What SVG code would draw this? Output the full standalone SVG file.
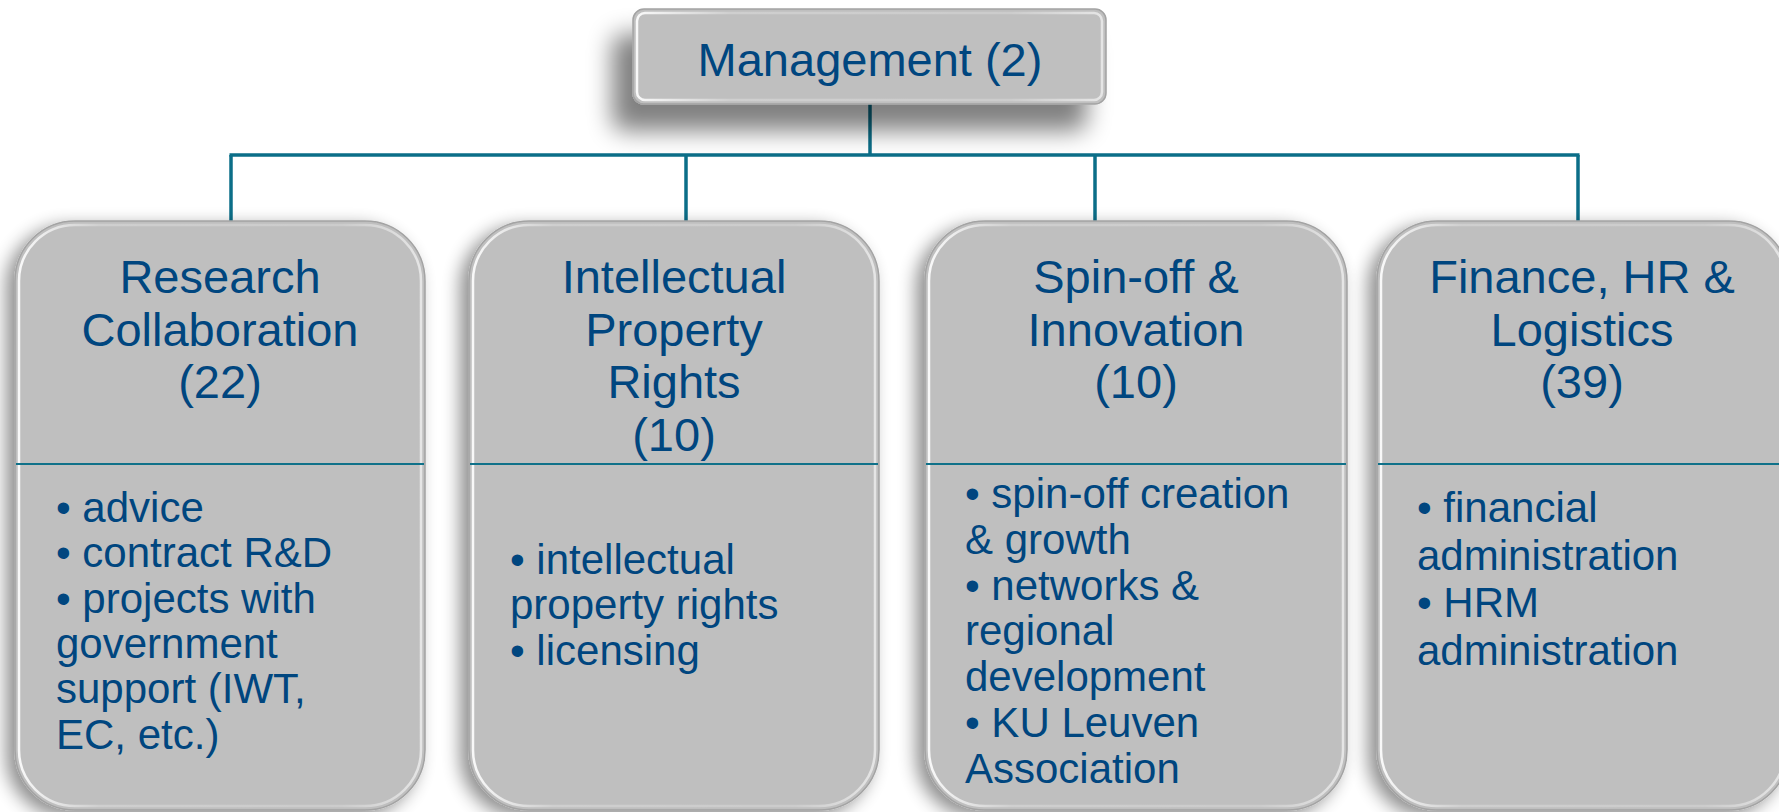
<svg xmlns="http://www.w3.org/2000/svg" width="1779" height="812" viewBox="0 0 1779 812">
<defs>
<style>
.t{font-family:"Liberation Sans",Arial,sans-serif;fill:#00467f;}
.ti{font-size:47px;text-anchor:middle;}
.bu{font-size:42px;}
.box{fill:#bfbfbf;stroke:#a3a3a3;stroke-width:1.5;}
.hl{fill:none;stroke:url(#edge);stroke-width:2.5;}
.div{stroke:#0f7189;stroke-width:2;}
.conn{stroke:#0b6e88;stroke-width:3.5;fill:none;}
</style>
<linearGradient id="edge" x1="0" y1="0" x2="1" y2="0">
<stop offset="0" stop-color="#ffffff" stop-opacity="0.9"/>
<stop offset="0.2" stop-color="#ffffff" stop-opacity="0.25"/>
<stop offset="0.8" stop-color="#ffffff" stop-opacity="0.2"/>
<stop offset="1" stop-color="#ffffff" stop-opacity="0.6"/>
</linearGradient>
<filter id="sh" x="-20%" y="-20%" width="140%" height="140%">
<feGaussianBlur in="SourceAlpha" stdDeviation="9"/>
<feOffset dx="-8" dy="6" result="b"/>
<feComponentTransfer><feFuncA type="linear" slope="0.45"/></feComponentTransfer>
<feMerge><feMergeNode/><feMergeNode in="SourceGraphic"/></feMerge>
</filter>
<filter id="shm" x="-30%" y="-60%" width="160%" height="220%">
<feGaussianBlur in="SourceAlpha" stdDeviation="12"/>
<feOffset dx="-20" dy="26" result="b"/>
<feComponentTransfer><feFuncA type="linear" slope="0.5"/></feComponentTransfer>
<feMerge><feMergeNode/><feMergeNode in="SourceGraphic"/></feMerge>
</filter>
</defs>
<rect width="1779" height="812" fill="#ffffff"/>

<g id="connectors">
<line class="conn" x1="870" y1="104" x2="870" y2="155"/>
<line class="conn" x1="229.5" y1="155" x2="1579.5" y2="155"/>
<line class="conn" x1="231" y1="155" x2="231" y2="222"/>
<line class="conn" x1="686" y1="155" x2="686" y2="222"/>
<line class="conn" x1="1095" y1="155" x2="1095" y2="222"/>
<line class="conn" x1="1578" y1="155" x2="1578" y2="222"/>
</g>

<g id="management">
<rect x="633" y="9" width="473" height="95" rx="11" class="box" filter="url(#shm)"/>
<rect x="637" y="13" width="465" height="87" rx="8" class="hl"/>
<text class="t ti" x="870" y="76">Management (2)</text>
</g>

<g id="research">
<rect x="15" y="221" width="410" height="589" rx="60" class="box" filter="url(#sh)"/>
<rect x="19" y="225" width="402" height="581" rx="56" class="hl"/>
<line class="div" x1="16" y1="464" x2="424" y2="464"/>
<text class="t ti" x="220" y="293">Research</text>
<text class="t ti" x="220" y="345.5">Collaboration</text>
<text class="t ti" x="220" y="398">(22)</text>
<text class="t bu" x="56" y="522">• advice</text>
<text class="t bu" x="56" y="567.3">• contract R&amp;D</text>
<text class="t bu" x="56" y="612.6">• projects with</text>
<text class="t bu" x="56" y="657.9">government</text>
<text class="t bu" x="56" y="703.2">support (IWT,</text>
<text class="t bu" x="56" y="748.5">EC, etc.)</text>
</g>

<g id="ipr">
<rect x="469" y="221" width="410" height="589" rx="60" class="box" filter="url(#sh)"/>
<rect x="473" y="225" width="402" height="581" rx="56" class="hl"/>
<line class="div" x1="470" y1="464" x2="878" y2="464"/>
<text class="t ti" x="674" y="293">Intellectual</text>
<text class="t ti" x="674" y="345.5">Property</text>
<text class="t ti" x="674" y="398">Rights</text>
<text class="t ti" x="674" y="450.5">(10)</text>
<text class="t bu" x="510" y="574">• intellectual</text>
<text class="t bu" x="510" y="619.3">property rights</text>
<text class="t bu" x="510" y="664.6">• licensing</text>
</g>

<g id="spinoff">
<rect x="925" y="221" width="422" height="589" rx="60" class="box" filter="url(#sh)"/>
<rect x="929" y="225" width="414" height="581" rx="56" class="hl"/>
<line class="div" x1="926" y1="464" x2="1346" y2="464"/>
<text class="t ti" x="1136" y="293">Spin-off &amp;</text>
<text class="t ti" x="1136" y="345.5">Innovation</text>
<text class="t ti" x="1136" y="398">(10)</text>
<text class="t bu" x="965" y="508">• spin-off creation</text>
<text class="t bu" x="965" y="553.8">&amp; growth</text>
<text class="t bu" x="965" y="599.6">• networks &amp;</text>
<text class="t bu" x="965" y="645.4">regional</text>
<text class="t bu" x="965" y="691.2">development</text>
<text class="t bu" x="965" y="737">• KU Leuven</text>
<text class="t bu" x="965" y="782.8">Association</text>
</g>

<g id="finance">
<rect x="1377" y="221" width="412" height="589" rx="60" class="box" filter="url(#sh)"/>
<rect x="1381" y="225" width="404" height="581" rx="56" class="hl"/>
<line class="div" x1="1378" y1="464" x2="1779" y2="464"/>
<text class="t ti" x="1582" y="293">Finance, HR &amp;</text>
<text class="t ti" x="1582" y="345.5">Logistics</text>
<text class="t ti" x="1582" y="398">(39)</text>
<text class="t bu" x="1417" y="522">• financial</text>
<text class="t bu" x="1417" y="569.5">administration</text>
<text class="t bu" x="1417" y="617">• HRM</text>
<text class="t bu" x="1417" y="664.5">administration</text>
</g>
</svg>
